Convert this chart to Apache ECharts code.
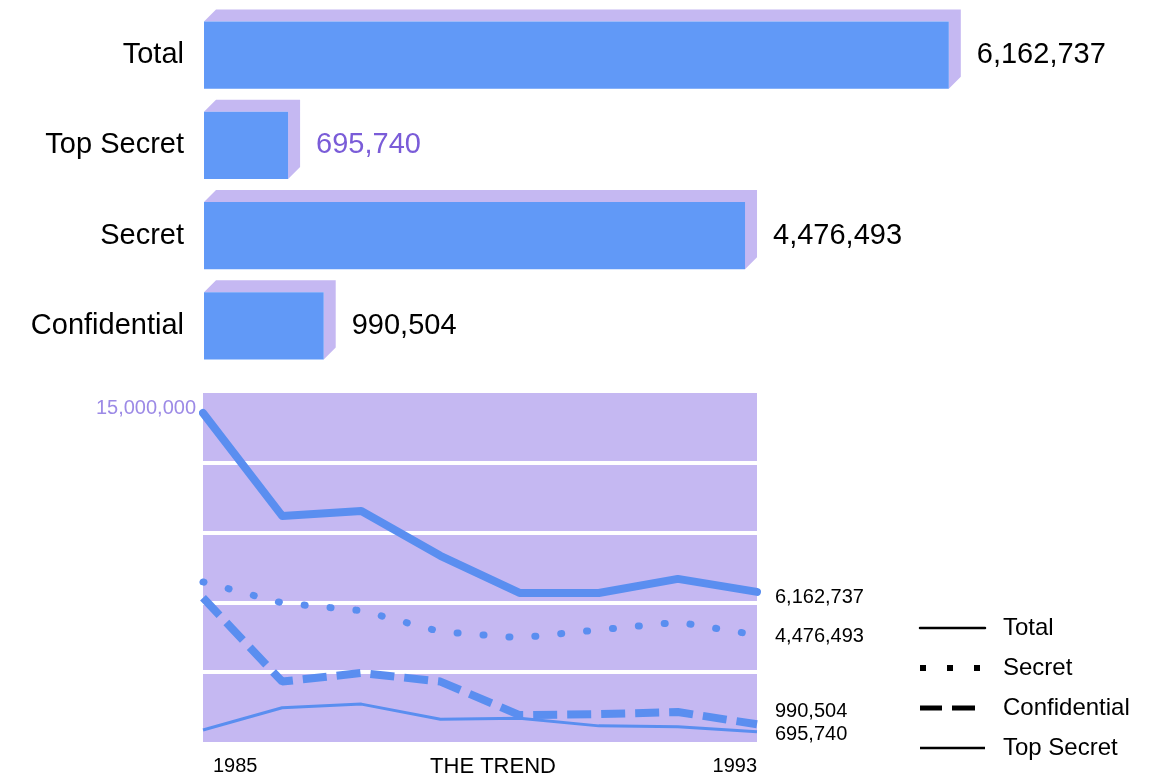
<!DOCTYPE html>
<html>
<head>
<meta charset="utf-8">
<script src="https://cdn.jsdelivr.net/npm/echarts@6/dist/echarts.min.js"></script>
<style>
  html, body { margin: 0; padding: 0; background: #ffffff; }
  #chart { width: 1166px; height: 780px; }
</style>
</head>
<body>
<div id="chart"></div>
<script>
// ---- data ----
const categories = ['Total', 'Top Secret', 'Secret', 'Confidential'];
const currentValues = [6162737, 695740, 4476493, 990504];

const trendYears = ['1985', '1986', '1987', '1988', '1989', '1990', '1991', '1993'];
const totalTrend = [13150000, 9130000, 9320000, 7570000, 6120000, 6120000, 6670000, 6162737];
const secretTrend = [6550000, 5730000, 5430000, 4610000, 4370000, 4680000, 4980000, 4476493];
const confidentialTrend = [5930000, 2660000, 2995000, 2660000, 1350000, 1390000, 1470000, 990504];
const topSecretTrend = [770000, 1640000, 1780000, 1190000, 1230000, 930000, 900000, 695740];

const scaleLabel = '15,000,000';
const trendTitle = 'THE TREND';
const legendNames = ['Total', 'Secret', 'Confidential', 'Top Secret'];

// ---- styles ----
const FONT = '"Liberation Sans", Arial, sans-serif';
const BLUE = '#6199f7';
const LAVENDER = '#c5b8f2';
const LINE_BLUE = '#5a8ef0';
const PURPLE = '#7a5cd8';
const LIGHT_PURPLE = '#9c8ae6';

const fmt = v => Math.round(v).toLocaleString('en-US');

const chart = echarts.init(document.getElementById('chart'), null, { renderer: 'canvas' });

function endLabel(dy) {
  return { show: true, distance: 18, offset: [0, dy],
    formatter: p => fmt(Array.isArray(p.value) ? p.value[p.value.length - 1] : p.value),
    color: '#000', fontSize: 20, fontFamily: FONT };
}

const option = {
  animation: false,
  backgroundColor: '#ffffff',
  textStyle: { fontFamily: FONT },
  grid: [
    { left: 204, right: 116, top: 10, height: 361, containLabel: false, outerBoundsMode: 'none' },
    { left: 203, right: 409, top: 393, height: 349, containLabel: false, outerBoundsMode: 'none' }
  ],
  xAxis: [
    { gridIndex: 0, type: 'value', min: 0, max: 7000000, show: false },
    { gridIndex: 1, type: 'category', data: trendYears, boundaryGap: false,
      axisLine: { show: false }, axisTick: { show: false }, splitLine: { show: false },
      axisLabel: {
        interval: (i) => i === 0 || i === trendYears.length - 1,
        alignMinLabel: 'left', alignMaxLabel: 'right',
        padding: [0, 0, 0, 10],
        margin: 14, color: '#000', fontSize: 20, fontFamily: FONT
      },
      name: trendTitle, nameLocation: 'middle', nameGap: 14, nameMoveOverlap: false,
      nameTextStyle: { color: '#000', fontSize: 22, fontFamily: FONT, padding: [0, 0, 0, 26] }
    }
  ],
  yAxis: [
    { gridIndex: 0, type: 'category', data: categories, inverse: true,
      axisLine: { show: false }, axisTick: { show: false }, splitLine: { show: false },
      axisLabel: { margin: 20, color: '#000', fontSize: 29, fontFamily: FONT }
    },
    { gridIndex: 1, type: 'value', min: 300000, max: 13930000, show: false, splitLine: { show: false } },
    { gridIndex: 1, type: 'value', min: 0, max: 5, interval: 1,
      axisLine: { show: false }, axisTick: { show: false }, axisLabel: { show: false },
      splitArea: { show: true, areaStyle: { color: [LAVENDER] } },
      splitLine: { show: true, showMinLine: false, showMaxLine: false, lineStyle: { color: '#ffffff', width: 4 } }
    }
  ],
  legend: {
    orient: 'vertical', left: 912, top: 611,
    itemWidth: 65, itemHeight: 24, itemGap: 16,
    textStyle: { color: '#000', fontSize: 24, fontFamily: FONT, padding: [0, 0, 0, 13] },
    itemStyle: { color: 'rgba(0,0,0,0)', borderWidth: 0, opacity: 0 },
    selectedMode: false,
    data: [
      { name: legendNames[0], lineStyle: { color: '#000', width: 2.5, type: 'solid' } },
      { name: legendNames[1], lineStyle: { color: '#000', width: 6, type: [6, 21], cap: 'butt' } },
      { name: legendNames[2], lineStyle: { color: '#000', width: 5, type: [22, 10, 23, 20], cap: 'butt' } },
      { name: legendNames[3], lineStyle: { color: '#000', width: 2.5, type: 'solid' } }
    ]
  },
  graphic: [
    { type: 'text', x: 196, y: 408,
      style: { text: scaleLabel, align: 'right', verticalAlign: 'middle', fill: LIGHT_PURPLE,
        font: '20px ' + FONT } }
  ],
  series: [
    {
      name: 'Clearances', type: 'custom', xAxisIndex: 0, yAxisIndex: 0,
      data: currentValues.map((v, i) => [v, i]),
      encode: { x: 0, y: 1 },
      renderItem: (params, api) => {
        const val = api.value(0), idx = api.value(1);
        const s = api.coord([0, idx]);
        const e = api.coord([val, idx]);
        const band = api.size([0, 1])[1];
        const h = band * 0.745;
        const d = 12;
        const x0 = s[0], x1 = e[0], yc = s[1];
        const y0 = yc - h / 2, y1 = yc + h / 2;
        return {
          type: 'group',
          children: [
            { type: 'polygon',
              shape: { points: [[x0, y0], [x0 + d, y0 - d], [x1 + d, y0 - d], [x1 + d, y1 - d], [x1, y1], [x1, y0]] },
              style: { fill: LAVENDER } },
            { type: 'rect', shape: { x: x0, y: y0, width: x1 - x0, height: h }, style: { fill: BLUE } },
            { type: 'text',
              style: { text: fmt(val), x: x1 + 28, y: yc, verticalAlign: 'middle', align: 'left',
                fill: idx === 1 ? PURPLE : '#000', font: '29px ' + FONT } }
          ]
        };
      }
    },
    {
      name: 'Total', type: 'line', xAxisIndex: 1, yAxisIndex: 1,
      data: totalTrend, symbol: 'none', endLabel: endLabel(6),
      lineStyle: { color: LINE_BLUE, width: 8, cap: 'round', join: 'round' },
      itemStyle: { color: LINE_BLUE }, z: 4
    },
    {
      name: 'Secret', type: 'line', xAxisIndex: 1, yAxisIndex: 1,
      data: secretTrend, symbol: 'none', endLabel: endLabel(1),
      lineStyle: { color: LINE_BLUE, width: 7, type: [1, 25], cap: 'round' },
      itemStyle: { color: LINE_BLUE }, z: 3
    },
    {
      name: 'Confidential', type: 'line', xAxisIndex: 1, yAxisIndex: 1,
      data: confidentialTrend, symbol: 'none', endLabel: endLabel(-13),
      lineStyle: { color: LINE_BLUE, width: 8, type: [24, 10], cap: 'butt' },
      itemStyle: { color: LINE_BLUE }, z: 3
    },
    {
      name: 'Top Secret', type: 'line', xAxisIndex: 1, yAxisIndex: 1,
      data: topSecretTrend, symbol: 'none', endLabel: endLabel(3),
      lineStyle: { color: LINE_BLUE, width: 3, join: 'round' },
      itemStyle: { color: LINE_BLUE }, z: 3
    }
  ]
};

chart.setOption(option);
</script>
</body>
</html>
